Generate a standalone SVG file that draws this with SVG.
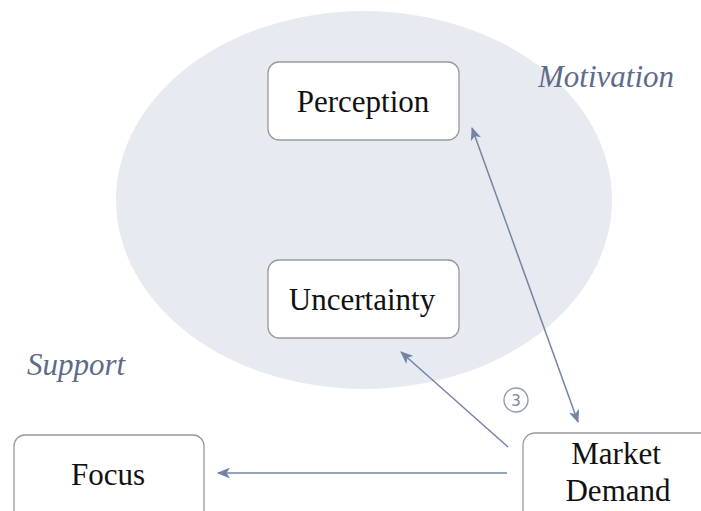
<svg xmlns="http://www.w3.org/2000/svg" width="701" height="511" viewBox="0 0 701 511">
<style>
.box{fill:#ffffff;stroke:#9a9a9a;stroke-width:1.3}
.lbl{font-family:"Liberation Serif","Times New Roman",serif;font-size:31px;fill:#111111;text-anchor:middle}
.zone{font-family:"Liberation Serif","Times New Roman",serif;font-size:31px;font-style:italic;fill:#5d6b89}
.conn{stroke:#7283a3;stroke-width:1.5;fill:none}
</style>
<defs>
<marker id="ah" viewBox="0 0 13 11" refX="12" refY="5.5" markerWidth="13" markerHeight="11" markerUnits="userSpaceOnUse" orient="auto-start-reverse">
<path d="M0,0 L13,5.5 L0,11 L3.5,5.5 Z" fill="#7283a3"/>
</marker>
</defs>
<rect width="701" height="511" fill="#ffffff"/>
<ellipse id="motivation-zone" cx="364" cy="200" rx="248" ry="189" fill="#e7eaf0"/>
<text class="zone" x="538" y="87">Motivation</text>
<text class="zone" x="27" y="375">Support</text>
<g id="connectors">
<line class="conn" x1="472" y1="128" x2="578" y2="422" marker-start="url(#ah)" marker-end="url(#ah)"/>
<line class="conn" x1="508" y1="447" x2="401" y2="352" marker-end="url(#ah)"/>
<line class="conn" x1="507" y1="473" x2="218" y2="473" marker-end="url(#ah)"/>
<g id="badge-3">
<circle cx="516" cy="400" r="12" fill="none" stroke="#8b97ad" stroke-width="1.3"/>
<text x="516" y="406" font-family="'DejaVu Sans','Liberation Sans',sans-serif" font-size="15" fill="#7a869c" text-anchor="middle">3</text>
</g>
</g>
<g id="perception">
<rect class="box" x="268" y="62" width="191" height="78" rx="11"/>
<text class="lbl" x="363" y="112">Perception</text>
</g>
<g id="uncertainty">
<rect class="box" x="268" y="260" width="191" height="78" rx="11"/>
<text class="lbl" x="362" y="310">Uncertainty</text>
</g>
<g id="focus">
<rect class="box" x="14" y="435" width="190" height="90" rx="11"/>
<text class="lbl" x="108" y="485">Focus</text>
</g>
<g id="market-demand">
<rect class="box" x="523" y="433" width="200" height="90" rx="12"/>
<text class="lbl" x="616" y="464">Market</text>
<text class="lbl" x="618" y="501">Demand</text>
</g>
</svg>
